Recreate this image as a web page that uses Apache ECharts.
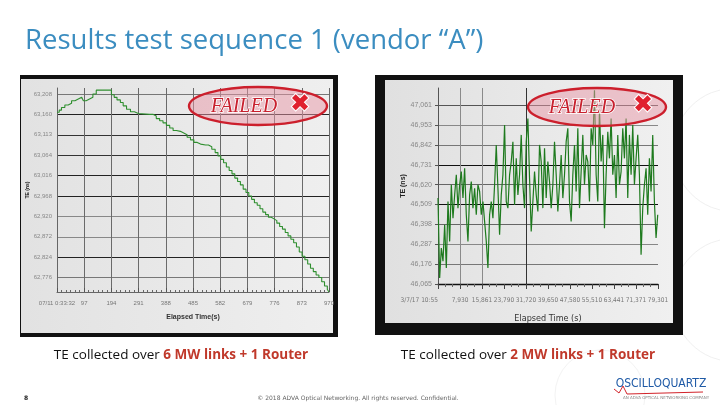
<!DOCTYPE html>
<html>
<head>
<meta charset="utf-8">
<script src="https://cdn.jsdelivr.net/npm/echarts@6/dist/echarts.min.js"></script>
<style>
html,body{margin:0;padding:0;background:#fff;}
#chart{width:720px;height:405px;}
</style>
</head>
<body>
<div id="chart"></div>
<script>
// ---------- Data ----------
var slideTitle = 'Results test sequence 1 (vendor \u201cA\u201d)';

// Left chart: TE over 6 MW links + 1 router
var leftTime = [0,8,16,28,40,52,64,76,88,94,104,116,128,140,186,194,204,214,226,236,248,262,276,290,330,342,354,366,378,390,402,414,426,440,452,464,476,488,500,512,530,540,552,564,574,584,594,604,614,624,634,644,654,664,674,684,694,704,714,724,734,744,754,764,774,784,794,804,814,824,834,844,854,864,874,884,894,904,914,924,934,944,954,964,970];
var leftTE = [63165,63170,63176,63182,63186,63192,63196,63200,63196,63192,63196,63200,63208,63217,63217,63206,63200,63194,63188,63180,63172,63166,63162,63160,63160,63156,63150,63145,63140,63134,63128,63122,63120,63116,63112,63106,63100,63094,63090,63088,63088,63084,63078,63070,63062,63054,63046,63036,63028,63020,63010,63002,62994,62984,62976,62968,62960,62952,62946,62938,62930,62924,62918,62914,62910,62904,62896,62890,62882,62874,62866,62858,62848,62836,62826,62818,62808,62798,62790,62782,62776,62766,62756,62748,62742];
var leftYTickValues = [62776,62824,62872,62920,62968,63016,63064,63112,63160,63208];
var leftYTickLabels = ['62,776','62,824','62,872','62,920','62,968','63,016','63,064','63,113','63,160','63,208'];
var leftXTickLabels = ['07/11 0:33:32','97','194','291','388','485','582','679','776','873','970'];

// Right chart: TE over 2 MW links + 1 router
var rightTime = [0,600,1200,1800,2400,3000,3600,4200,4800,5400,6000,6600,7200,7800,8400,9000,9600,10200,10800,11400,12000,12600,13200,13800,14400,15000,15600,16200,16800,17400,18000,18600,19200,19800,20400,21000,21600,22200,22800,23400,24000,24600,25200,25800,26400,27000,27600,28200,28800,29400,30000,30600,31200,31800,32400,33000,33600,34200,34800,35400,36000,36600,37200,37800,38400,39000,39600,40200,40800,41400,42000,42600,43200,43800,44400,45000,45600,46200,46800,47400,48000,48600,49200,49800,50400,51000,51600,52200,52800,53400,54000,54600,55200,55800,56400,57000,57600,58200,58800,59400,60000,60600,61200,61800,62400,63000,63600,64200,64800,65400,66000,66600,67200,67800,68400,69000,69600,70200,70800,71400,72000,72600,73200,73800,74400,75000,75600,76200,76800,77400,78000,78600,79200];
var rightTE = [46545,46099,46266,46192,46396,46154,46526,46303,46619,46433,46563,46675,46489,46619,46693,46545,46712,46452,46303,46563,46637,46489,46600,46452,46619,46582,46452,46526,46414,46303,46154,46452,46526,46433,46619,46842,46600,46340,46563,46675,46953,46526,46489,46675,46749,46860,46507,46767,46563,46675,46898,46619,46489,46860,46990,46656,46359,46526,46693,46563,46470,46842,46749,46489,46823,46545,46749,46637,46489,46619,46860,46675,46470,46619,46786,46545,46675,46860,46935,46526,46414,46675,46842,46582,46935,46489,46693,46898,46619,46786,46749,46526,46935,46842,47148,46675,46526,47046,46749,46898,46377,46675,46916,46767,46990,46675,46786,46545,46898,46619,46693,46935,46767,46990,46545,46898,46675,46953,46619,46767,46898,46675,46229,46489,46619,46712,46452,46767,46582,46898,46526,46322,46452];
var rightYTickValues = [46065,46176,46287,46398,46509,46620,46731,46842,46953,47064];
var rightYTickLabels = ['46,065','46,176','46,287','46,398','46,509','46,620','46,731','46,842','46,953','47,061'];
var rightXTickLabels = ['3/7/17 10:55','7,930','15,861','23,790','31,720','39,650','47,580','55,510','63,441','71,371','79,301'];

var leftCaption = ['TE collected over ', '6 MW links + 1 Router'];
var rightCaption = ['TE collected over ', '2 MW links + 1 Router'];
var footerText = '\u00a9 2018 ADVA Optical Networking. All rights reserved. Confidential.';

// ---------- Chart ----------
var chart = echarts.init(document.getElementById('chart'), null, {renderer: 'canvas'});

function pairs(xs, ys) { return xs.map(function (x, i) { return [x, ys[i]]; }); }
function labelFrom(values, labels) {
  return function (v) {
    for (var i = 0; i < values.length; i++) { if (Math.abs(values[i] - v) < 1) return labels[i]; }
    return '';
  };
}
var narrow = '"DejaVu Sans Condensed", "Liberation Sans Narrow", sans-serif';

function stamp(cx, cy, tx, xx) {
  return [
    {type: 'ellipse', z: 100, shape: {cx: cx, cy: cy, rx: 69, ry: 19},
      style: {fill: 'rgba(232,150,165,0.5)', stroke: '#cc1f2c', lineWidth: 2.4}},
    {type: 'text', z: 101, style: {text: 'FAILED', x: tx, y: cy + 1, textAlign: 'center', textVerticalAlign: 'middle',
      font: 'italic 20px "Liberation Serif", "DejaVu Serif", serif', fill: '#c8202e', stroke: '#ffffff', lineWidth: 1.5}},
    {type: 'text', z: 101, style: {text: '\u2716', x: xx, y: cy - 1, textAlign: 'center', textVerticalAlign: 'middle',
      font: 'bold 24px "DejaVu Sans", sans-serif', fill: '#e0202e', stroke: '#ffffff', lineWidth: 2}}
  ];
}

function caption(cx, parts) {
  return {type: 'text', z: 10, style: {
    text: '{a|' + parts[0] + '}{b|' + parts[1] + '}', x: cx, y: 355, textAlign: 'center', textVerticalAlign: 'middle',
    rich: {
      a: {fontFamily: '"Open Sans", "Noto Sans", sans-serif', fontSize: 13.5, fill: '#111'},
      b: {fontFamily: '"Open Sans", "Noto Sans", sans-serif', fontSize: 13.5, fontWeight: 'bold', fill: '#c0392b'}
    }}};
}

var graphics = [
  // left screenshot frame
  {type: 'rect', z: -2, shape: {x: 20, y: 75, width: 318, height: 262}, style: {fill: '#111'}},
  {type: 'rect', z: -1, shape: {x: 21, y: 79, width: 312, height: 254},
    style: {fill: new echarts.graphic.LinearGradient(0, 0, 1, 0, [{offset: 0, color: '#e2e2e2'}, {offset: 1, color: '#efefef'}])}},
  // right screenshot frame
  {type: 'rect', z: -2, shape: {x: 375, y: 75, width: 308, height: 260}, style: {fill: '#111'}},
  {type: 'rect', z: -1, shape: {x: 385, y: 80, width: 288, height: 243},
    style: {fill: new echarts.graphic.LinearGradient(0, 0, 1, 0, [{offset: 0, color: '#e0e0e0'}, {offset: 1, color: '#f0f0f0'}])}},
  // faint watermark circles on the right
  {type: 'circle', z: -3, shape: {cx: 735, cy: 150, r: 62}, style: {fill: 'none', stroke: '#f0f0f0', lineWidth: 1}},
  {type: 'circle', z: -3, shape: {cx: 735, cy: 300, r: 62}, style: {fill: 'none', stroke: '#f0f0f0', lineWidth: 1}},
  {type: 'circle', z: -3, shape: {cx: 600, cy: 395, r: 45}, style: {fill: 'none', stroke: '#f3f3f3', lineWidth: 1}},
  // title
  {type: 'text', z: 10, style: {text: slideTitle, x: 25, y: 41, textVerticalAlign: 'middle',
    font: '27.5px "Open Sans", "Noto Sans", sans-serif', fill: '#3b8dc0'}},
  caption(181, leftCaption),
  caption(528, rightCaption),
  // footer
  {type: 'text', z: 10, style: {text: '8', x: 26, y: 398, textAlign: 'center', textVerticalAlign: 'middle',
    font: 'bold 6px "DejaVu Sans", sans-serif', fill: '#222'}},
  {type: 'text', z: 10, style: {text: footerText, x: 358, y: 398, textAlign: 'center', textVerticalAlign: 'middle',
    font: '6px "DejaVu Sans", sans-serif', fill: '#666'}},
  // logo
  {type: 'text', z: 10, style: {text: 'OSCILLOQUARTZ', x: 661, y: 384, textAlign: 'center', textVerticalAlign: 'middle',
    font: '12px ' + narrow, fill: '#1f5aa6'}},
  {type: 'polyline', z: 10, shape: {points: [[614, 389], [619, 393], [623, 386], [627, 394], [703, 392]]},
    style: {stroke: '#d2232a', lineWidth: 1, fill: 'none'}},
  {type: 'text', z: 10, style: {text: 'AN ADVA OPTICAL NETWORKING COMPANY', x: 666, y: 398, textAlign: 'center', textVerticalAlign: 'middle',
    font: '4px "DejaVu Sans", sans-serif', fill: '#888'}}
].concat(stamp(258, 106, 244, 300)).concat(stamp(597, 107, 582, 643));

var option = {
  backgroundColor: '#ffffff',
  animation: false,
  graphic: graphics,
  grid: [
    {left: 57, top: 88, width: 272, height: 204, containLabel: false},
    {left: 438, top: 88, width: 220, height: 196, containLabel: false}
  ],
  xAxis: [
    {type: 'value', gridIndex: 0, min: 0, max: 970, interval: 97,
      axisLine: {show: true, lineStyle: {color: '#666', width: 1}},
      axisTick: {show: true, inside: true, length: 4, lineStyle: {color: '#555'}},
      minorTick: {show: true, splitNumber: 6, length: 2, lineStyle: {color: '#666'}},
      axisLabel: {fontSize: 6, color: '#777', margin: 8, showMinLabel: true, showMaxLabel: true,
        formatter: function (v) { return leftXTickLabels[Math.round(v / 97)] || ''; }},
      splitLine: {show: true, lineStyle: {color: '#6a6a6a', width: 1}},
      name: 'Elapsed Time(s)', nameLocation: 'middle', nameGap: 22,
      nameTextStyle: {fontSize: 7, fontWeight: 'bold', color: '#333'}},
    {type: 'value', gridIndex: 1, min: 0, max: 79300, interval: 7930,
      axisLine: {show: true, lineStyle: {color: '#111', width: 1.3}},
      axisTick: {show: true, length: 5, lineStyle: {color: '#444'}},
      minorTick: {show: true, splitNumber: 3, length: 3, lineStyle: {color: '#666'}},
      axisLabel: {fontSize: 6.5, color: '#777', margin: 13, fontFamily: narrow, showMinLabel: true, showMaxLabel: true,
        hideOverlap: false, alignMinLabel: 'right',
        formatter: function (v) { return rightXTickLabels[Math.round(v / 7930)] || ''; }},
      splitLine: {show: true, lineStyle: {color: ['#8a8a8a', '#8a8a8a', '#8a8a8a', 'rgba(0,0,0,0)', '#333', 'rgba(0,0,0,0)', 'rgba(0,0,0,0)', 'rgba(0,0,0,0)', 'rgba(0,0,0,0)', 'rgba(0,0,0,0)', 'rgba(0,0,0,0)'], width: 1}},
      name: 'Elapsed Time (s)', nameLocation: 'middle', nameGap: 30,
      nameTextStyle: {fontSize: 9, color: '#333', fontFamily: narrow}}
  ],
  yAxis: [
    {type: 'value', gridIndex: 0, min: 62742, max: 63222,
      axisLine: {show: true, lineStyle: {color: '#666'}},
      axisTick: {show: false, customValues: leftYTickValues},
      axisLabel: {fontSize: 6, color: '#888', margin: 5, customValues: leftYTickValues,
        formatter: labelFrom(leftYTickValues, leftYTickLabels)},
      splitLine: {show: true, lineStyle: {color: ['#777', '#222', '#888', '#888', '#222', '#222', '#333', '#333', '#222', '#777'], width: 1.1}},
      name: 'TE (ns)', nameLocation: 'middle', nameGap: 19, nameRotate: 90,
      nameTextStyle: {fontSize: 5, fontWeight: 'bold', color: '#222'}},
    {type: 'value', gridIndex: 1, min: 46065, max: 47160,
      axisLine: {show: true, lineStyle: {color: '#555'}},
      axisTick: {show: true, length: 3, customValues: rightYTickValues, lineStyle: {color: '#555'}},
      axisLabel: {fontSize: 7, color: '#888', margin: 6, customValues: rightYTickValues,
        formatter: labelFrom(rightYTickValues, rightYTickLabels)},
      splitLine: {show: true, lineStyle: {color: ['#111', '#777', '#888', '#666', '#111', '#666', '#111', '#777', '#888', '#555'], width: 1.2}},
      name: 'TE (ns)', nameLocation: 'middle', nameGap: 27, nameRotate: 90,
      nameTextStyle: {fontSize: 7, fontWeight: 'bold', color: '#222'}}
  ],
  series: [
    {type: 'line', xAxisIndex: 0, yAxisIndex: 0, step: 'end', symbol: 'none',
      lineStyle: {color: '#2f8f2f', width: 1.1}, data: pairs(leftTime, leftTE)},
    {type: 'line', xAxisIndex: 1, yAxisIndex: 1, symbol: 'none',
      lineStyle: {color: '#1e7a1e', width: 1.2}, data: pairs(rightTime, rightTE)}
  ]
};
chart.setOption(option);
</script>
</body>
</html>
